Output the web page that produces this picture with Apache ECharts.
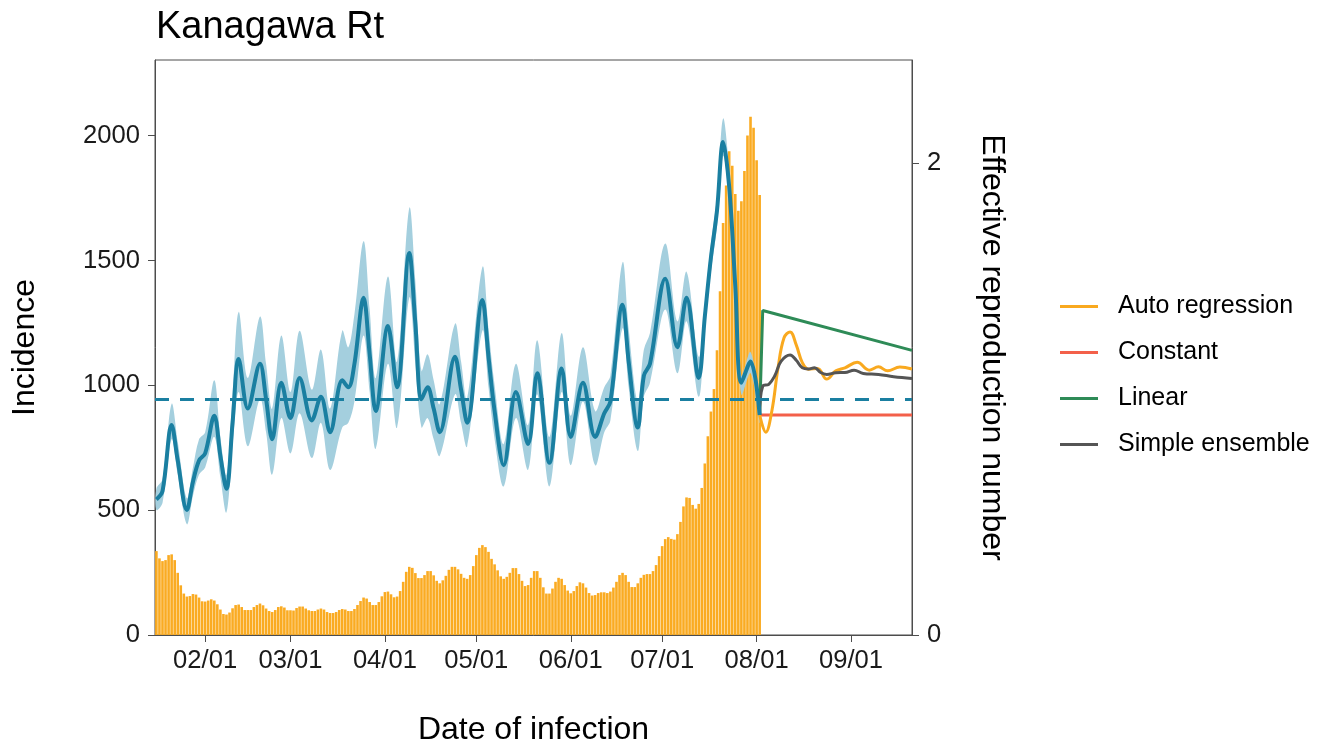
<!DOCTYPE html>
<html>
<head>
<meta charset="utf-8">
<script src="https://cdn.jsdelivr.net/npm/echarts@6/dist/echarts.min.js"></script>
<style>
html,body{margin:0;padding:0;background:#fff;}
#chart{width:1318px;height:751px;}
</style>
</head>
<body>
<div id="chart"></div>
<script>
// ---------------- data ----------------
const barStartDate = '2021-01-16'; // first incidence bar, one bar per day
const incidence = [
 336,307,296,300,320,323,300,249,199,166,
 154,156,164,162,150,135,134,138,143,138,
 123,102,84,82,90,107,120,122,112,100,
 100,100,112,120,126,119,106,96,92,100,
 112,115,110,99,99,98,108,114,114,106,
 99,96,96,102,106,102,92,88,88,92,
 100,104,102,96,96,104,120,136,150,146,
 132,120,120,132,155,172,174,163,151,154,
 176,213,253,273,269,248,228,228,240,256,
 256,239,217,207,219,237,261,273,273,263,
 245,229,225,240,276,320,349,360,352,333,
 305,283,259,235,225,233,249,268,268,244,
 217,196,200,229,256,256,229,191,166,166,
 186,213,229,225,200,178,167,176,196,211,
 207,190,168,158,160,168,171,171,168,174,
 190,213,240,249,240,213,192,192,207,229,
 241,244,244,256,280,316,356,384,392,385,
 382,404,453,515,551,549,521,506,525,589,
 687,796,895,985,1140,1377,1650,1800,1938,1879,
 1766,1699,1737,1858,2001,2076,2032,1901,1762
];

const rtDates = [
 '2021-01-16','2021-01-18','2021-01-21','2021-01-23','2021-01-26','2021-01-28','2021-01-30','2021-02-01',
 '2021-02-04','2021-02-06','2021-02-08','2021-02-10','2021-02-12','2021-02-15','2021-02-19','2021-02-21',
 '2021-02-23','2021-02-26','2021-03-01','2021-03-04','2021-03-08','2021-03-11','2021-03-14','2021-03-18',
 '2021-03-20','2021-03-22','2021-03-25','2021-03-27','2021-03-29','2021-04-02','2021-04-05','2021-04-09',
 '2021-04-11','2021-04-13','2021-04-15','2021-04-17','2021-04-19','2021-04-24','2021-04-26','2021-04-28',
 '2021-05-03','2021-05-05','2021-05-07','2021-05-10','2021-05-14','2021-05-18','2021-05-21','2021-05-25',
 '2021-05-29','2021-06-01','2021-06-05','2021-06-09','2021-06-12','2021-06-14','2021-06-18','2021-06-20',
 '2021-06-23','2021-06-25','2021-06-27','2021-07-02','2021-07-06','2021-07-09','2021-07-13','2021-07-15',
 '2021-07-17','2021-07-19','2021-07-21','2021-07-23','2021-07-25','2021-07-27','2021-07-30','2021-08-02'
];
const rtMean = [
 0.575,0.61,0.89,0.74,0.53,0.65,0.74,0.77,
 0.93,0.76,0.62,0.90,1.17,0.96,1.15,1.00,
 0.83,1.07,0.92,1.09,0.91,1.01,0.86,1.08,
 1.05,1.15,1.43,1.19,0.95,1.31,1.05,1.62,
 1.32,1.00,1.05,0.96,0.86,1.18,1.04,0.90,
 1.42,1.18,0.95,0.72,1.03,0.81,1.11,0.73,
 1.13,0.84,1.07,0.84,0.94,0.99,1.40,1.16,
 0.88,1.10,1.15,1.51,1.22,1.43,1.09,1.35,
 1.60,1.80,2.09,1.90,1.48,1.07,1.16,0.933
];
const rtLower = [
 0.53,0.56,0.83,0.68,0.47,0.59,0.68,0.71,
 0.84,0.67,0.52,0.80,1.03,0.80,1.00,0.86,
 0.68,0.92,0.77,0.94,0.75,0.90,0.70,0.88,
 0.90,0.99,1.27,1.03,0.79,1.15,0.88,1.43,
 1.15,0.88,0.92,0.83,0.76,1.02,0.90,0.80,
 1.29,1.05,0.83,0.63,0.92,0.70,1.02,0.63,
 1.03,0.72,0.99,0.72,0.86,0.91,1.30,1.05,
 0.78,1.01,1.07,1.38,1.11,1.33,1.01,1.29,
 1.54,1.73,2.03,1.84,1.43,1.02,1.11,0.90
];
const rtUpper = [
 0.62,0.66,0.98,0.82,0.58,0.71,0.83,0.86,
 1.08,0.84,0.68,1.02,1.37,1.09,1.35,1.15,
 0.96,1.27,1.03,1.29,1.04,1.21,0.96,1.29,
 1.22,1.36,1.67,1.38,1.09,1.52,1.16,1.81,
 1.50,1.12,1.19,1.08,0.98,1.32,1.16,1.00,
 1.56,1.30,1.06,0.81,1.15,0.89,1.25,0.84,
 1.28,0.93,1.22,0.95,1.05,1.10,1.58,1.30,
 0.99,1.21,1.28,1.66,1.33,1.54,1.18,1.41,
 1.66,1.86,2.19,1.97,1.53,1.10,1.20,0.96
];

const arDates = ['2021-08-02','2021-08-04','2021-08-06','2021-08-08','2021-08-10','2021-08-12','2021-08-14','2021-08-16','2021-08-18','2021-08-21','2021-08-24','2021-08-27','2021-08-30','2021-09-03','2021-09-07','2021-09-10','2021-09-13','2021-09-17','2021-09-21'];
const arValues = [0.933,0.86,0.95,1.13,1.26,1.285,1.23,1.155,1.127,1.13,1.085,1.12,1.133,1.156,1.123,1.137,1.12,1.136,1.128];

const constDates = ['2021-08-02','2021-09-21'];
const constValues = [0.933,0.933];

const linDates = ['2021-08-02','2021-08-03','2021-09-21'];
const linValues = [0.933,1.376,1.207];

const ensDates = ['2021-08-02','2021-08-03','2021-08-05','2021-08-07','2021-08-09','2021-08-12','2021-08-14','2021-08-16','2021-08-18','2021-08-20','2021-08-22','2021-08-24','2021-08-27','2021-08-30','2021-09-02','2021-09-05','2021-09-10','2021-09-15','2021-09-21'];
const ensValues = [0.933,1.055,1.063,1.10,1.16,1.187,1.165,1.133,1.128,1.133,1.113,1.105,1.112,1.113,1.123,1.109,1.105,1.095,1.088];

const incidenceTicks = [0,500,1000,1500,2000];
const rtTicks = [0,2];
const monthTickDates = ['2021-02-01','2021-03-01','2021-04-01','2021-05-01','2021-06-01','2021-07-01','2021-08-01','2021-09-01'];
const xRange = ['2021-01-15T13:00:00','2021-09-21T00:00:00'];

const seriesNames = ['Auto regression','Constant','Linear','Simple ensemble'];

// ---------------- build ----------------
function pad(n){return (n<10?'0':'')+n;}
function ts(s){
  const m = s.match(/^(\d+)-(\d+)-(\d+)(?:T(\d+):(\d+):(\d+))?$/);
  return new Date(+m[1], +m[2]-1, +m[3], +(m[4]||0), +(m[5]||0), +(m[6]||0)).getTime();
}
const barStart = ts(barStartDate);
const barData = incidence.map((v,i)=>{
  const d = new Date(barStart); d.setDate(d.getDate()+i);
  return [d.getTime(), v];
});
const pair = (ds, vs) => ds.map((d,i)=>[ts(d), vs[i]]);
const monthVals = monthTickDates.map(ts);

const FONT = 'Liberation Sans, Arial, sans-serif';
const AX = '#4d4d4d';
const C_RT = '#1a7fa1', C_BAND = '#a4cfde';
const C_AR = '#f9a91f', C_CONST = '#f3604a', C_LIN = '#2e8b57', C_ENS = '#555555';

function renderBand(params, api){
  if (params.dataIndex !== 0) return null;
  const up = rtDates.map((d,i)=>api.coord([ts(d), rtUpper[i]]));
  const lo = rtDates.map((d,i)=>api.coord([ts(d), rtLower[i]])).reverse();
  return {type:'polygon', shape:{points:up.concat(lo), smooth:0.35},
          style:{fill:C_BAND, stroke:null}};
}

const chart = echarts.init(document.getElementById('chart'), null, {renderer:'canvas'});
chart.setOption({
  animation:false,
  backgroundColor:'#fff',
  textStyle:{fontFamily:FONT},
  title:{text:'Kanagawa Rt', left:151, top:4,
    textStyle:{fontFamily:FONT, fontSize:38, fontWeight:'normal', color:'#000'}},
  grid:{left:155, right:406, top:60, bottom:113, show:true, borderColor:AX, borderWidth:1},
  legend:{
    data:seriesNames, orient:'vertical', left:1055, top:289,
    icon:'rect', itemWidth:38, itemHeight:3, itemGap:21,
    textStyle:{fontFamily:FONT, fontSize:25, color:'#000', lineHeight:25, padding:[0,0,0,15]}
  },
  xAxis:{
    type:'value', min:ts(xRange[0]), max:ts(xRange[1]),
    name:'Date of infection', nameLocation:'middle', nameGap:79,
    nameTextStyle:{fontFamily:FONT, fontSize:32, color:'#000'},
    axisLine:{lineStyle:{color:AX, width:1}},
    axisTick:{show:true, length:7, lineStyle:{color:AX}, customValues:monthVals},
    axisLabel:{customValues:monthVals, fontFamily:FONT, fontSize:25.6, color:'#1a1a1a', margin:13,
      formatter:function(v){const d=new Date(v);return pad(d.getMonth()+1)+'/'+pad(d.getDate());}},
    splitLine:{show:false}
  },
  yAxis:[{
    type:'value', min:0, max:2303, position:'left',
    name:'Incidence', nameLocation:'middle', nameGap:114,
    nameTextStyle:{fontFamily:FONT, fontSize:32, color:'#000'},
    axisLine:{show:true, lineStyle:{color:AX, width:1}},
    axisTick:{show:true, length:7, lineStyle:{color:AX}, customValues:incidenceTicks},
    axisLabel:{customValues:incidenceTicks, fontFamily:FONT, fontSize:25.6, color:'#1a1a1a', margin:15,
      formatter:function(v){return String(v);}},
    splitLine:{show:false}
  },{
    type:'value', min:0, max:2.438, position:'right',
    name:'Effective reproduction number', nameLocation:'middle', nameGap:64, nameRotate:-90,
    nameTextStyle:{fontFamily:FONT, fontSize:32, color:'#000'},
    axisLine:{show:true, lineStyle:{color:AX, width:1}},
    axisTick:{show:true, length:7, lineStyle:{color:AX}, customValues:rtTicks},
    axisLabel:{customValues:rtTicks, fontFamily:FONT, fontSize:25.6, color:'#1a1a1a', margin:15,
      formatter:function(v){return String(v);}},
    splitLine:{show:false}
  }],
  series:[
    {name:'Incidence', type:'bar', yAxisIndex:0, data:barData, barWidth:2.6, z:1,
     itemStyle:{color:'#faab22'}, silent:true},
    {name:'Rt band', type:'custom', yAxisIndex:1, renderItem:renderBand,
     data:[[ts(rtDates[0]), rtMean[0]]], z:2, silent:true, clip:true},
    {name:'Rt', type:'line', yAxisIndex:1, data:pair(rtDates, rtMean), smooth:0.35, symbol:'none',
     lineStyle:{color:C_RT, width:4}, z:4, silent:true,
     markLine:{silent:true, symbol:'none', label:{show:false},
       lineStyle:{color:C_RT, width:3, type:[14,11]}, data:[{yAxis:1}]}},
    {name:'Constant', type:'line', yAxisIndex:1, data:pair(constDates, constValues), symbol:'none',
     color:C_CONST, lineStyle:{color:C_CONST, width:3}, z:3},
    {name:'Linear', type:'line', yAxisIndex:1, data:pair(linDates, linValues), symbol:'none',
     color:C_LIN, lineStyle:{color:C_LIN, width:3}, z:3},
    {name:'Auto regression', type:'line', yAxisIndex:1, data:pair(arDates, arValues), symbol:'none', smooth:0.4,
     color:C_AR, lineStyle:{color:C_AR, width:3}, z:3},
    {name:'Simple ensemble', type:'line', yAxisIndex:1, data:pair(ensDates, ensValues), symbol:'none', smooth:0.4,
     color:C_ENS, lineStyle:{color:C_ENS, width:3}, z:3}
  ]
});
</script>
</body>
</html>
